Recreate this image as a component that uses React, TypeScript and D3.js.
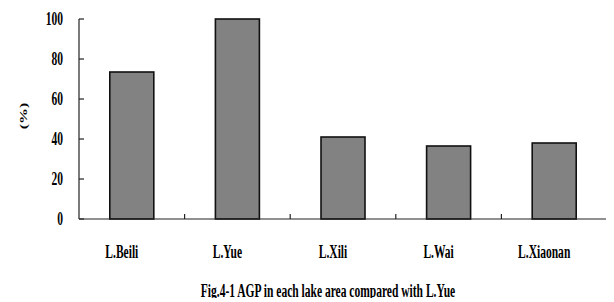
import React, { useRef, useEffect } from "react";
import * as d3 from "d3";

const lakes = ["L.Beili", "L.Yue", "L.Xili", "L.Wai", "L.Xiaonan"];
const agp = [73.5, 100, 41, 36.5, 38];
const yTicks = [0, 20, 40, 60, 80, 100];
const yLabel = "(%)";
const caption = "Fig.4-1 AGP in each lake area compared with L.Yue";

const App = () => {
  const svgRef = useRef<SVGSVGElement>(null);

  useEffect(() => {
    const svg = d3.select(svgRef.current);
    svg.selectAll("*").remove();

    const width = 614;
    const height = 302;
    const margin = { top: 19, left: 79, bottom: 83, right: 7 };
    const iwidth = width - margin.left - margin.right;
    const iheight = height - margin.top - margin.bottom;
    const font = "'Liberation Serif', serif";
    const squeeze = 0.64;

    svg.attr("width", width).attr("height", height);

    const g = svg
      .append("g")
      .attr("transform", `translate(${margin.left},${margin.top})`);

    const y = d3.scaleLinear().domain([0, 100]).range([iheight, 0]);
    const band = d3.scaleBand().domain(lakes).range([0, iwidth]);

    // bars
    g.selectAll("rect.bar")
      .data(lakes)
      .enter()
      .append("rect")
      .attr("class", "bar")
      .attr("x", (d) => band(d)! + band.bandwidth() / 2 - 22)
      .attr("width", 44)
      .attr("y", (d, i) => y(agp[i]))
      .attr("height", (d, i) => iheight - y(agp[i]))
      .style("fill", "#828282")
      .style("stroke", "#111")
      .style("stroke-width", 1.6);

    // y axis
    g.append("line")
      .attr("x1", 0)
      .attr("x2", 0)
      .attr("y1", y(100))
      .attr("y2", y(0))
      .style("stroke", "#222")
      .style("stroke-width", 1.2);
    g.selectAll("line.ytick")
      .data(yTicks)
      .enter()
      .append("line")
      .attr("class", "ytick")
      .attr("x1", 0)
      .attr("x2", 5)
      .attr("y1", (d) => y(d))
      .attr("y2", (d) => y(d))
      .style("stroke", "#222")
      .style("stroke-width", 1.2);
    g.selectAll("text.ylab")
      .data(yTicks)
      .enter()
      .append("text")
      .attr("class", "ylab")
      .attr("transform", (d) => `translate(-16,${y(d) + 6}) scale(${squeeze},1)`)
      .attr("text-anchor", "end")
      .style("font-family", font)
      .style("font-weight", "bold")
      .style("font-size", "18px")
      .text((d) => d);

    // x axis
    g.append("line")
      .attr("x1", 0)
      .attr("x2", iwidth)
      .attr("y1", iheight)
      .attr("y2", iheight)
      .style("stroke", "#222")
      .style("stroke-width", 1.2);
    g.selectAll("line.xtick")
      .data(lakes)
      .enter()
      .append("line")
      .attr("class", "xtick")
      .attr("x1", (d) => band(d)! + band.bandwidth())
      .attr("x2", (d) => band(d)! + band.bandwidth())
      .attr("y1", iheight)
      .attr("y2", iheight - 5)
      .style("stroke", "#222")
      .style("stroke-width", 1.2);
    g.selectAll("text.xlab")
      .data(lakes)
      .enter()
      .append("text")
      .attr("class", "xlab")
      .attr(
        "transform",
        (d) =>
          `translate(${band(d)! + band.bandwidth() / 2 - 10},${iheight + 39}) scale(${squeeze},1)`
      )
      .attr("text-anchor", "middle")
      .style("font-family", font)
      .style("font-weight", "bold")
      .style("font-size", "18px")
      .text((d) => d);

    // y label
    svg
      .append("text")
      .attr("transform", `translate(27,116) rotate(-90) scale(1,${squeeze})`)
      .attr("text-anchor", "middle")
      .style("font-family", font)
      .style("font-weight", "bold")
      .style("font-size", "16px")
      .text(yLabel);

    // caption
    svg
      .append("text")
      .attr("transform", `translate(328,297) scale(${squeeze},1)`)
      .attr("text-anchor", "middle")
      .style("font-family", font)
      .style("font-weight", "bold")
      .style("font-size", "18px")
      .text(caption);
  }, []);

  return (
    <div style={{ margin: -8 }}>
      <svg ref={svgRef}></svg>
    </div>
  );
};

export default App;
